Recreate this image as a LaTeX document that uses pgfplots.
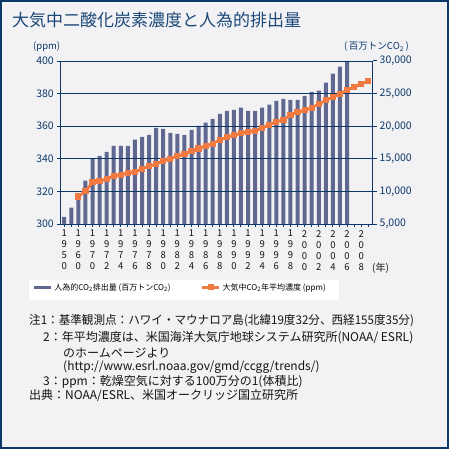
\documentclass[border=0pt]{standalone}
\usepackage{fontspec}
\setmainfont{Noto Sans CJK JP}
\usepackage{pgfplots}
\pgfplotsset{compat=1.18}
\definecolor{navy}{RGB}{12,56,104}
\definecolor{titlec}{RGB}{28,72,120}
\definecolor{bg}{RGB}{242,242,245}
\definecolor{barc}{RGB}{96,104,144}
\definecolor{linec}{RGB}{240,122,66}
\definecolor{txt}{RGB}{20,20,20}
\pgfplotstableread{
x y
0 6100
1 7500
2 9400
3 11650
4 14990
5 15450
6 16060
7 16990
8 16990
9 16990
10 17930
11 18370
12 18680
13 19750
14 19600
15 18990
16 18830
17 18680
18 19440
19 20040
20 20550
21 21130
22 21900
23 22360
24 22520
25 22830
26 22360
27 22360
28 22830
29 23290
30 23900
31 24210
32 24050
33 24050
34 24670
35 25280
36 25440
37 26670
38 28050
39 29120
40 30000
}\emis
\pgfplotstableread{
x y
2 316.91
3 320.04
4 325.68
5 326.32
6 327.46
7 329.68
8 330.19
9 331.13
10 332.03
11 333.84
12 335.41
13 336.84
14 338.76
15 340.12
16 341.48
17 343.15
18 344.85
19 346.35
20 347.61
21 349.31
22 351.69
23 353.20
24 354.45
25 355.70
26 356.54
27 357.21
28 358.96
29 360.97
30 362.74
31 363.88
32 366.84
33 368.54
34 369.71
35 371.32
36 373.45
37 375.98
38 377.70
39 379.98
40 382.09
41 384.02
42 385.83
43 387.64
}\ppm
\begin{document}
\begin{tikzpicture}
\begin{scope}[x=1pt,y=1pt]
\fill[bg] (0,0) rectangle (449,-449);
\draw[navy, line width=2pt] (1,-1) rectangle (448,-448);
\node[anchor=west, titlec, font=\fontsize{17}{17}\selectfont, inner sep=0pt] at (12,-20) {大気中二酸化炭素濃度と人為的排出量};
\node[anchor=west, navy, font=\fontsize{9.5}{9.5}\selectfont, inner sep=0pt] at (33,-46.7) {(ppm)};
\node[anchor=west, navy, font=\fontsize{9.5}{9.5}\selectfont, inner sep=0pt] at (344,-46.7) {(\,百万トンCO\textsubscript{2}\,)};
\node[anchor=west, txt, font=\fontsize{10}{10}\selectfont, inner sep=0pt] at (372,-268) {(年)};
\fill[white] (29,-280) rectangle (339,-299.5);
\begin{scope}[every node/.style={anchor=west, txt, font=\fontsize{12}{12}\selectfont, inner sep=0pt}]
\node at (29,-321) {\scalebox{0.965}[1]{注1：基準観測点：ハワイ・マウナロア島(北緯19度32分、西経155度35分)}};
\node at (43,-338) {2：年平均濃度は、米国海洋大気庁地球システム研究所(NOAA/ ESRL)};
\node at (63,-352.7) {のホームページより};
\node at (63,-366.7) {(http://www.esrl.noaa.gov/gmd/ccgg/trends/)};
\node at (43,-381.7) {3：ppm：乾燥空気に対する100万分の1(体積比)};
\node at (29,-396) {出典：NOAA/ESRL、米国オークリッジ国立研究所};
\end{scope}
\end{scope}
\begin{axis}[
  at={(60pt,-224pt)}, anchor=south west,
  scale only axis, width=312.5pt, height=163pt,
  xmin=-0.6, xmax=43.6, ymin=5000, ymax=30000,
  axis x line=none,
  axis y line*=right,
  y axis line style={navy, line width=1pt, -},
  scaled y ticks=false,
  ytick={5000,10000,15000,20000,25000,30000},
  yticklabels={{5,000},{10,000},{15,000},{20,000},{25,000},{30,000}},
  yticklabel style={navy, font=\fontsize{10.5}{10.5}\selectfont, inner sep=0pt, xshift=3pt},
  ytick style={navy, line width=1pt},
  tick align=outside, major tick length=4pt,
  ybar, bar width=4pt,
]
\addplot[fill=barc, draw=none] table {\emis};
\end{axis}
\begin{axis}[
  at={(60pt,-224pt)}, anchor=south west,
  scale only axis, width=312.5pt, height=163pt,
  xmin=-0.6, xmax=43.6, ymin=300, ymax=400,
  axis x line*=bottom, axis y line*=left,
  axis line style={navy, line width=1pt, -},
  scaled y ticks=false,
  ytick={300,320,340,360,380,400},
  yticklabels={300,320,340,360,380,400},
  yticklabel style={navy, font=\fontsize{10.5}{10.5}\selectfont, inner sep=0pt, xshift=-3pt},
  ymajorgrids, grid style={navy, line width=1pt},
  xtick={0,2,...,42},
  minor xtick={1,3,...,43},
  xticklabels={{1\\9\\5\\0},{1\\9\\6\\0},{1\\9\\7\\0},{1\\9\\7\\2},{1\\9\\7\\4},{1\\9\\7\\6},{1\\9\\7\\8},{1\\9\\8\\0},{1\\9\\8\\2},{1\\9\\8\\4},{1\\9\\8\\6},{1\\9\\8\\8},{1\\9\\9\\0},{1\\9\\9\\2},{1\\9\\9\\4},{1\\9\\9\\6},{1\\9\\9\\8},{2\\0\\0\\0},{2\\0\\0\\2},{2\\0\\0\\4},{2\\0\\0\\6},{2\\0\\0\\8}},
  xticklabel style={align=center, font=\fontsize{9.5}{11}\selectfont, txt, inner sep=0pt, anchor=north, yshift=-3pt},
  tick align=outside, major tick length=3pt, minor tick length=3pt,
  tick style={navy, line width=1pt},
  every minor tick/.style={navy, line width=1pt},
  legend columns=2,
  legend style={at={(-0.0896,-0.35)}, anchor=north west, draw=none, fill=none,
    font=\fontsize{8}{9}\selectfont, inner sep=0pt,
    /tikz/every even column/.append style={column sep=28pt}},
]
\addlegendimage{barc, line width=3pt}
\addlegendentry{人為的CO\textsubscript{2}排出量 (百万トンCO\textsubscript{2})}
\addplot[linec, line width=2.8pt, mark=square*, mark size=1.7pt, mark options={solid}] table {\ppm};
\addlegendentry{大気中CO\textsubscript{2}年平均濃度 (ppm)}
\end{axis}
\end{tikzpicture}
\end{document}
